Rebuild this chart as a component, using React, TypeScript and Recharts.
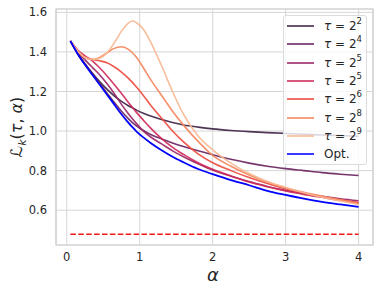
import React from 'react';
import { LineChart, Line, XAxis, YAxis, CartesianGrid, ReferenceLine, ReferenceArea, Legend } from 'recharts';

const alphaValues = [0.05, 0.15, 0.25, 0.35, 0.45, 0.55, 0.65, 0.75, 0.85, 0.9, 0.95, 1.05, 1.15, 1.3, 1.45, 1.6, 1.8, 2.0, 2.25, 2.5, 2.75, 3.0, 3.25, 3.5, 3.75, 4.0];

const tau2 = [1.455, 1.392, 1.34, 1.293, 1.25, 1.212, 1.178, 1.15, 1.127, 1.117, 1.107, 1.09, 1.076, 1.058, 1.043, 1.031, 1.02, 1.011, 1.003, 0.997, 0.992, 0.988, 0.984, 0.98, 0.977, 0.974];
const tau4 = [1.455, 1.392, 1.338, 1.29, 1.242, 1.193, 1.145, 1.1, 1.06, 1.043, 1.028, 1.003, 0.983, 0.96, 0.94, 0.922, 0.9, 0.88, 0.857, 0.838, 0.822, 0.81, 0.8, 0.79, 0.782, 0.775];
const tau5a = [1.455, 1.4, 1.36, 1.322, 1.285, 1.24, 1.19, 1.135, 1.085, 1.062, 1.04, 1.0, 0.97, 0.935, 0.9, 0.87, 0.835, 0.803, 0.772, 0.745, 0.72, 0.7, 0.684, 0.67, 0.658, 0.648];
const tau5b = [1.455, 1.41, 1.38, 1.355, 1.32, 1.28, 1.235, 1.19, 1.142, 1.12, 1.097, 1.055, 1.015, 0.962, 0.918, 0.882, 0.84, 0.807, 0.773, 0.742, 0.718, 0.697, 0.68, 0.665, 0.65, 0.638];
const tau6 = [1.455, 1.405, 1.372, 1.362, 1.355, 1.345, 1.325, 1.298, 1.265, 1.246, 1.225, 1.18, 1.13, 1.065, 1.0, 0.945, 0.885, 0.84, 0.8, 0.765, 0.735, 0.708, 0.687, 0.668, 0.652, 0.637];
const tau8 = [1.455, 1.405, 1.372, 1.362, 1.372, 1.395, 1.418, 1.426, 1.412, 1.396, 1.375, 1.32, 1.26, 1.18, 1.1, 1.03, 0.948, 0.877, 0.822, 0.778, 0.742, 0.713, 0.69, 0.67, 0.652, 0.633];
const tau9 = [1.455, 1.405, 1.372, 1.362, 1.368, 1.395, 1.445, 1.505, 1.547, 1.556, 1.549, 1.515, 1.45, 1.33, 1.2, 1.085, 0.975, 0.905, 0.838, 0.785, 0.745, 0.715, 0.688, 0.665, 0.646, 0.628];
const optValues = [1.455, 1.39, 1.335, 1.285, 1.235, 1.185, 1.135, 1.085, 1.04, 1.02, 1.0, 0.968, 0.94, 0.903, 0.87, 0.842, 0.808, 0.782, 0.752, 0.726, 0.698, 0.677, 0.658, 0.642, 0.629, 0.617];

const boundValue = 0.478;
const boundStart = 0.05;
const boundEnd = 4.0;

const xTicks = [0, 1, 2, 3, 4];
const yTicks = [0.6, 0.8, 1.0, 1.2, 1.4, 1.6];
const xDomain: [number, number] = [-0.1475, 4.1975];
const yDomain: [number, number] = [0.424, 1.617];

const seriesDefs = [
  { key: 'tau2', exp: '2', color: '#3f2346', values: tau2 },
  { key: 'tau4', exp: '4', color: '#6a2460', values: tau4 },
  { key: 'tau5a', exp: '5', color: '#9a2566', values: tau5a },
  { key: 'tau5b', exp: '5', color: '#cf2a5a', values: tau5b },
  { key: 'tau6', exp: '6', color: '#ee4a3e', values: tau6 },
  { key: 'tau8', exp: '8', color: '#f5855c', values: tau8 },
  { key: 'tau9', exp: '9', color: '#f7b994', values: tau9 },
];

const data = alphaValues.map((a, i) => {
  const row: Record<string, number> = { alpha: a, opt: optValues[i] };
  seriesDefs.forEach((s) => { row[s.key] = s.values[i]; });
  return row;
});

const FONT = '"DejaVu Sans", sans-serif';
const TEXT = '#262626';

const Swatch = ({ color }: { color: string }) => (
  <svg width={27} height={6} style={{ marginLeft: 3, display: 'block' }}>
    <line x1={0} x2={27} y1={3} y2={3} stroke={color} strokeWidth={1.7} strokeOpacity={0.92} />
  </svg>
);

const renderLegend = () => (
  <div style={{
    background: 'rgba(255,255,255,0.8)', border: '1px solid #dcdcdc', borderRadius: 3,
    width: 84, height: 150, boxSizing: 'border-box', paddingTop: 1, fontFamily: FONT, fontSize: 12, color: TEXT,
  }}>
    {seriesDefs.map((s) => (
      <div key={s.key} style={{ height: 18.3, display: 'flex', alignItems: 'center' }}>
        <Swatch color={s.color} />
        <span style={{ marginLeft: 10, whiteSpace: 'nowrap' }}>
          <i>τ</i> = 2<sup style={{ fontSize: 8.5, verticalAlign: 'top', lineHeight: '10px', position: 'relative', top: -3 }}>{s.exp}</sup>
        </span>
      </div>
    ))}
    <div style={{ height: 18.3, display: 'flex', alignItems: 'center' }}>
      <Swatch color="#0000ff" />
      <span style={{ marginLeft: 10 }}>Opt.</span>
    </div>
  </div>
);

const YLabel = () => (
  <text transform="translate(22,127) rotate(-90)" textAnchor="middle" fontFamily={FONT} fontSize={16} fill={TEXT}>
    <tspan>ℒ</tspan>
    <tspan fontSize={11} dy={4} fontStyle="italic">k</tspan>
    <tspan dy={-4}>(</tspan>
    <tspan fontStyle="italic">τ</tspan>
    <tspan>, </tspan>
    <tspan fontStyle="italic">α</tspan>
    <tspan>)</tspan>
  </text>
);

const XLabel = () => (
  <text x={213} y={281} textAnchor="middle" fontFamily={FONT} fontSize={18} fontStyle="italic" fill={TEXT}>α</text>
);

export default function App() {
  return (
    <div style={{ position: 'absolute', left: 0, top: 0, width: 379, height: 292, background: '#fff' }}>
      <LineChart width={379} height={292} data={data} margin={{ top: 9, right: 6, bottom: 0, left: 0 }}>
        <CartesianGrid stroke="#d6d6d6" strokeWidth={1} vertical horizontal />
        <ReferenceArea x1={xDomain[0]} x2={xDomain[1]} y1={yDomain[0]} y2={yDomain[1]} fill="none" stroke="#cfcfcf" strokeWidth={1.2} ifOverflow="extendDomain" />
        <XAxis dataKey="alpha" type="number" domain={xDomain} ticks={xTicks} allowDataOverflow height={47}
          tickLine={false} axisLine={false} tickSize={0} tickMargin={8}
          tick={{ fill: TEXT, fontSize: 11.5, fontFamily: FONT }} label={XLabel} />
        <YAxis type="number" domain={yDomain} ticks={yTicks} allowDataOverflow width={56}
          tickLine={false} axisLine={false} tickSize={0} tickMargin={9}
          tickFormatter={(v: number) => v.toFixed(1)}
          tick={{ fill: TEXT, fontSize: 11.5, fontFamily: FONT }} label={YLabel} />
        <ReferenceLine segment={[{ x: boundStart, y: boundValue }, { x: boundEnd, y: boundValue }]}
          stroke="#f01818" strokeWidth={1.5} strokeDasharray="5.5 2.4" />
        {seriesDefs.map((s) => (
          <Line key={s.key} dataKey={s.key} type="monotone" stroke={s.color} strokeWidth={1.6} strokeOpacity={0.92}
            dot={false} isAnimationActive={false} />
        ))}
        <Line dataKey="opt" type="monotone" stroke="#0000ff" strokeWidth={1.8} dot={false} isAnimationActive={false} />
        <Legend layout="vertical" align="center" verticalAlign="middle" content={renderLegend}
          wrapperStyle={{ left: 283, top: 15, width: 84, height: 150 }} />
      </LineChart>
    </div>
  );
}
